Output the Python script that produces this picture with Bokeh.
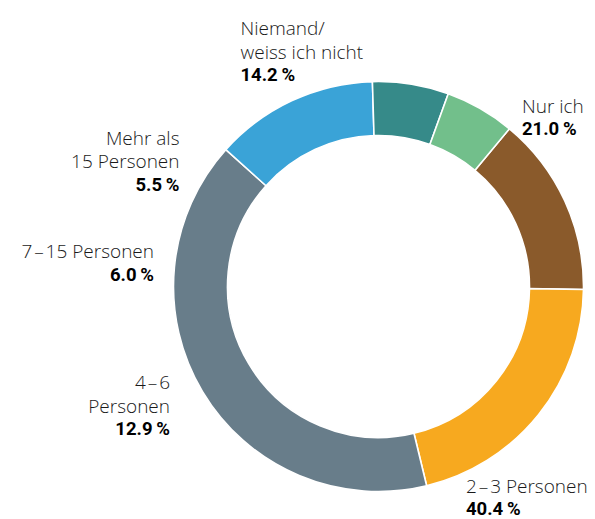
from bokeh.plotting import figure
from bokeh.models import Range1d, ColumnDataSource
from bokeh.core.properties import value
from bokeh.embed import file_html
from bokeh.resources import INLINE
import math

# ---- data ----
categories = ["Niemand/\nweiss ich nicht", "Nur ich", "2\u200a–\u200a3 Personen",
              "4\u200a–\u200a6\nPersonen", "7\u200a–\u200a15 Personen", "Mehr als\n15 Personen"]
values = [14.2, 21.0, 40.4, 12.9, 6.0, 5.5]
colors = ["#8a5a2b", "#f7a91f", "#687d8a", "#3aa3d7", "#368a89", "#72bf8b"]

# ---- layout (styles) ----
W, H = 595, 519
CX, CY = 378, 233          # page (378, 286)
R_OUT, R_IN = 205, 151
START_DEG = 39.7           # clockwise from 12 o'clock
FONT = "Open Sans Light, Roboto Light, Roboto"
FS = "19px"
FS_B = "18.5px"
LINE = 23.3
# label anchors in page pixels: (x, baseline of last line, align)
anchors = [(240, 74.5, "left"), (521.5, 128.3, "left"), (465.5, 508.5, "left"),
           (169.5, 428.5, "right"), (153.5, 274, "right"), (179, 184, "right")]

p = figure(width=W, height=H, output_backend="svg", toolbar_location=None,
           x_range=Range1d(0, W), y_range=Range1d(0, H), min_border=0)
p.axis.visible = False
p.grid.visible = False
p.outline_line_color = None
p.background_fill_color = "white"

total = sum(values)
starts, ends = [], []
acc = START_DEG
for v in values:
    a0 = acc
    a1 = acc + v / total * 360.0
    starts.append(math.radians(90 - a0))
    ends.append(math.radians(90 - a1))
    acc = a1

src = ColumnDataSource(dict(start=starts, end=ends, color=colors))
p.annular_wedge(x=CX, y=CY, inner_radius=R_IN, outer_radius=R_OUT,
                start_angle="start", end_angle="end", direction="clock",
                fill_color="color", line_color="white", line_width=1.6,
                source=src)

nx, ny, nt, na = [], [], [], []
bx, by, bt, ba = [], [], [], []
for cat, v, (ax, ay, al) in zip(categories, values, anchors):
    lines = cat.split("\n")
    x = ax
    y_last = H - ay
    bx.append(x); by.append(y_last); bt.append(f"{v:.1f}\u2009%"); ba.append(al)
    for i, ln in enumerate(reversed(lines)):
        nx.append(x); ny.append(y_last + LINE * (i + 1)); nt.append(ln); na.append(al)

p.text(x="x", y="y", text="t", text_align="a",
       source=ColumnDataSource(dict(x=nx, y=ny, t=nt, a=na)),
       text_font=value(FONT), text_font_size=FS, text_color="#1a1a1a",
       text_baseline="alphabetic")
p.text(x="x", y="y", text="t", text_align="a",
       source=ColumnDataSource(dict(x=bx, y=by, t=bt, a=ba)),
       text_font=value("Roboto"), text_font_size=FS_B, text_font_style="bold",
       text_color="#000000", text_baseline="alphabetic")

open("out.html", "w").write(file_html(p, INLINE))
